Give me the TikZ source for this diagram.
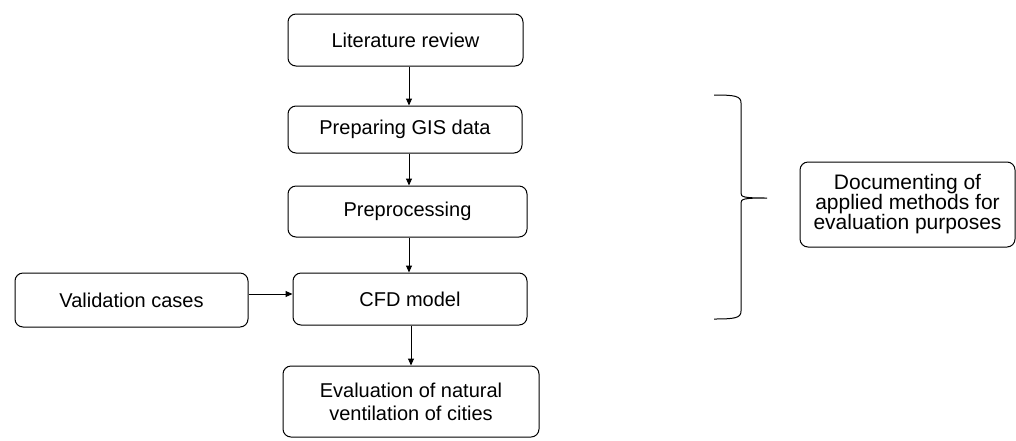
\documentclass[tikz,border=0pt]{standalone}
\usepackage{fontspec}
\setmainfont{Liberation Sans}
\usetikzlibrary{arrows.meta}
\begin{document}
\begin{tikzpicture}[x=1pt,y=-1pt,
  box/.style={draw,line width=1pt,rounded corners=8pt,inner sep=0pt,align=center,
    font=\fontsize{20}{23}\selectfont},
  arr/.style={line width=1pt,-{Triangle[length=7pt,width=6pt]}}]
\useasboundingbox (0,0) rectangle (1016,440);
\node[box,minimum width=235pt,minimum height=52pt] (lit) at (405.5,40) {Literature review};
\node[box,minimum width=234pt,minimum height=47pt] (gis) at (405,129.5) {Preparing GIS data};
\node[box,minimum width=239pt,minimum height=51pt] (pre) at (407.5,211.5) {Preprocessing};
\node[box,minimum width=234pt,minimum height=52pt] (cfd) at (410,299) {CFD model};
\node[box,minimum width=233pt,minimum height=54pt] (val) at (131.5,300) {Validation cases};
\node[box,minimum width=256pt,minimum height=71pt] (eval) at (411,401.5) {Evaluation of natural\\ventilation of cities};
\node[box,minimum width=215pt,minimum height=85pt,font=\fontsize{21}{20}\selectfont] (doc) at (907.5,204.5) {Documenting of\\applied methods for\\evaluation purposes};
\draw[arr] (lit.south -| 409,0) -- (gis.north -| 409,0);
\draw[arr] (gis.south -| 409,0) -- (pre.north -| 409,0);
\draw[arr] (pre.south -| 409,0) -- (cfd.north -| 409,0);
\draw[arr] (cfd.south -| 411,0) -- (eval.north -| 411,0);
\draw[arr] (val.east |- 0,294) -- (cfd.west |- 0,294);
\coordinate (bt) at (714,95);
\coordinate (bb) at (714,319);
\coordinate (tip) at (767,198);
\draw[line width=1pt] (bt) .. controls (735,95) and (741,96) .. (741,103)
  -- (741,193) .. controls (741,197) and (743,198) .. (tip)
  (tip) .. controls (743,198) and (741,199) .. (741,203)
  -- (741,311) .. controls (741,318) and (735,319) .. (bb);
\end{tikzpicture}
\end{document}
